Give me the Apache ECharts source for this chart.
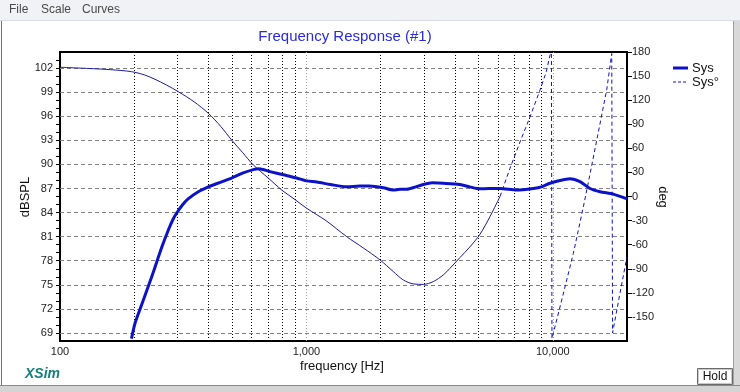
<!DOCTYPE html>
<html>
<head>
<meta charset="utf-8">
<script src="https://cdn.jsdelivr.net/npm/echarts@6/dist/echarts.min.js"></script>
<style>
html,body{margin:0;padding:0;background:#fff;}
#c{width:740px;height:392px;}
</style>
</head>
<body>
<div id="c"></div>
<script>
// ---- data ----
const magFreq = [195, 202, 215, 235, 259, 275, 288, 300, 315, 331, 364, 400, 450, 497, 550, 609, 640, 712, 806, 913, 1000, 1101, 1250, 1457, 1650, 1800, 2052, 2253, 2400, 2553, 2780, 2982, 3250, 3594, 4200, 4600, 5064, 5500, 6105, 7137, 8336, 9000, 9740, 10700, 11743, 12890, 14160, 15550, 17600, 20000];
const magDb   = [68.3, 70.3, 72.6, 75.9, 79.7, 81.8, 83.2, 84.1, 85.0, 85.7, 86.6, 87.2, 87.8, 88.3, 88.9, 89.35, 89.45, 89.1, 88.7, 88.3, 87.95, 87.8, 87.5, 87.2, 87.3, 87.3, 87.1, 86.8, 86.9, 86.9, 87.2, 87.5, 87.7, 87.65, 87.5, 87.2, 86.95, 87.0, 87.0, 86.8, 87.0, 87.2, 87.65, 88.0, 88.2, 87.85, 87.0, 86.6, 86.3, 85.7];

const phFreq = [100, 130, 160, 195, 220, 243, 270, 302, 350, 400, 450, 497, 550, 609, 700, 794, 900, 1003, 1200, 1457, 1700, 1989, 2253, 2474, 2716, 2982, 3273, 3594, 3827, 4200, 4600, 5064, 5560, 6105, 6700, 7360, 8085, 8875, 9400, 9740, 9870, 9920, 10950, 12110, 13300, 14200, 15070, 16550, 17340, 17400, 17480, 18740, 20000];
const phDeg  = [161, 159.5, 158, 155.5, 151.5, 146, 139, 130.6, 118, 103.6, 87, 70.4, 55, 39.3, 23, 8.1, -4, -14.7, -30, -50, -64, -79, -93.6, -104, -108.9, -109.5, -106, -97.7, -89.4, -76, -63, -47, -25, 0, 35, 68, 99.4, 132.7, 155, 176, 179, -177, -125, -71, -13, 30, 70, 133, 178, 179, -170, -120, -75];

const leftTicks = [69, 72, 75, 78, 81, 84, 87, 90, 93, 96, 99, 102];
const gridFreqs = [200, 300, 400, 500, 600, 700, 800, 900, 1000, 2000, 3000, 4000, 5000, 6000, 7000, 8000, 9000, 10000];
const decadeFreqs = [1000, 10000];

const title = 'Frequency Response (#1)';
const seriesNames = ['Sys', 'Sys°'];

// ---- build ----
const magData = magFreq.map((f, i) => [f, magDb[i]]);
const phData = phFreq.map((f, i) => [f, phDeg[i]]);
const dashFrom = 6105;
const phSolid = phData.filter(p => p[0] <= dashFrom);
const phDashed = phData.filter(p => p[0] >= dashFrom);

const FONT = 'Liberation Sans, Arial, sans-serif';
const BLUE = '#0c12c8';
const NAVY = '#1a1a9a';

const chart = echarts.init(document.getElementById('c'), null, {renderer: 'canvas'});

const vLines = gridFreqs.map(f => ({
  xAxis: f,
  lineStyle: decadeFreqs.includes(f)
    ? {color: '#a0a0a0', type: [1, 2], width: 1}
    : {color: '#000', type: [1, 2], width: 1}
}));
const hLines = leftTicks.map(v => ({
  yAxis: v,
  lineStyle: {color: '#808080', type: [4, 3], width: 1}
}));

chart.setOption({
  animation: false,
  backgroundColor: '#fff',
  textStyle: {fontFamily: FONT},
  grid: {left: 60, right: 113, top: 52, bottom: 51, show: true, borderColor: '#000', borderWidth: 2, backgroundColor: 'transparent'},
  xAxis: {
    type: 'log', logBase: 10, min: 100, max: 20000,
    axisLine: {show: true, onZero: false, lineStyle: {color: '#000', width: 2}},
    axisTick: {show: false},
    splitLine: {show: false},
    axisLabel: {
      color: '#222', fontSize: 11, fontFamily: FONT, margin: 5, showMaxLabel: false,
      formatter: v => Math.round(v).toLocaleString('en-US')
    }
  },
  yAxis: [
    {
      type: 'value', min: 68, max: 104, interval: 1, position: 'left',
      axisLine: {show: true, onZero: false, lineStyle: {color: '#000', width: 2}},
      axisTick: {show: true, inside: false, length: 4, lineStyle: {color: '#000'}},
      splitLine: {show: false},
      axisLabel: {color: '#222', fontSize: 11, fontFamily: FONT, margin: 7, showMinLabel: false, showMaxLabel: false,
        formatter: v => leftTicks.includes(Math.round(v)) ? String(Math.round(v)) : ''}
    },
    {
      type: 'value', min: -180, max: 180, interval: 30, position: 'right',
      axisLine: {show: true, onZero: false, lineStyle: {color: '#000', width: 2}},
      axisTick: {show: true, inside: false, length: 5, lineStyle: {color: '#000'}},
      splitLine: {show: false},
      axisLabel: {color: '#222', fontSize: 11, fontFamily: FONT, margin: 5, showMinLabel: false}
    }
  ],
  series: [
    {
      name: seriesNames[0], type: 'line', yAxisIndex: 0, data: magData,
      showSymbol: false, smooth: 0.25, z: 5,
      lineStyle: {color: BLUE, width: 3},
      markLine: {silent: true, symbol: 'none', label: {show: false}, data: vLines.concat(hLines), z: 1}
    },
    {
      name: seriesNames[1], type: 'line', yAxisIndex: 1, data: phSolid,
      showSymbol: false, smooth: 0.3, z: 4,
      lineStyle: {color: NAVY, width: 1}
    },
    {
      name: seriesNames[1] + ' ', type: 'line', yAxisIndex: 1, data: phDashed,
      showSymbol: false, smooth: 0, z: 4,
      lineStyle: {color: BLUE, width: 1, type: [4, 3]}
    }
  ],
  graphic: [
    {type: 'rect', left: 0, top: 0, shape: {width: 740, height: 20}, style: {fill: '#f0f2f5'}, z: 0},
    {type: 'line', shape: {x1: 0, y1: 20.5, x2: 740, y2: 20.5}, style: {stroke: '#d6dbe6', lineWidth: 1}},
    {type: 'text', left: 9, top: 4, style: {text: 'File', font: '12px ' + FONT, fill: '#4a4a4a'}},
    {type: 'text', left: 41, top: 4, style: {text: 'Scale', font: '12px ' + FONT, fill: '#4a4a4a'}},
    {type: 'text', left: 82, top: 4, style: {text: 'Curves', font: '12px ' + FONT, fill: '#4a4a4a'}},
    {type: 'line', shape: {x1: 1.5, y1: 21, x2: 1.5, y2: 386}, style: {stroke: '#707070', lineWidth: 1}},
    {type: 'rect', left: 734, top: 21, shape: {width: 6, height: 371}, style: {fill: '#d8d8d8'}},
    {type: 'line', shape: {x1: 733.5, y1: 21, x2: 733.5, y2: 386}, style: {stroke: '#a0a0a0', lineWidth: 1}},
    {type: 'rect', left: 0, top: 386, shape: {width: 740, height: 6}, style: {fill: '#d4d4d4'}},
    {type: 'line', shape: {x1: 0, y1: 385.5, x2: 740, y2: 385.5}, style: {stroke: '#8a8a8a', lineWidth: 1}},
    {type: 'text', x: 345, y: 37, style: {text: title, font: '15px ' + FONT, fill: '#2a2ad8', align: 'center', verticalAlign: 'middle'}},
    {type: 'text', x: 25, y: 197, rotation: Math.PI / 2, style: {text: 'dBSPL', font: '13px ' + FONT, fill: '#111', align: 'center', verticalAlign: 'middle'}},
    {type: 'text', x: 663, y: 197, rotation: -Math.PI / 2, style: {text: 'deg', font: '13px ' + FONT, fill: '#111', align: 'center', verticalAlign: 'middle'}},
    {type: 'text', x: 342, y: 366, style: {text: 'frequency [Hz]', font: '13px ' + FONT, fill: '#111', align: 'center', verticalAlign: 'middle'}},
    {type: 'line', shape: {x1: 673, y1: 68, x2: 688, y2: 68}, style: {stroke: BLUE, lineWidth: 3}},
    {type: 'text', x: 692, y: 68, style: {text: seriesNames[0], font: '13px ' + FONT, fill: '#111', verticalAlign: 'middle'}},
    {type: 'line', shape: {x1: 673, y1: 82, x2: 688, y2: 82}, style: {stroke: BLUE, lineWidth: 1, lineDash: [3, 2]}},
    {type: 'text', x: 692, y: 82, style: {text: seriesNames[1], font: '13px ' + FONT, fill: '#111', verticalAlign: 'middle'}},
    {type: 'text', x: 25, y: 374, style: {text: 'XSim', font: 'italic bold 14px ' + FONT, fill: '#15807a', verticalAlign: 'middle'}},
    {type: 'rect', shape: {x: 697.5, y: 368.5, width: 35, height: 16}, style: {fill: '#fff', stroke: '#6a6a6a', lineWidth: 1}},
    {type: 'rect', shape: {x: 698.5, y: 369.5, width: 33, height: 14}, style: {fill: 'none', stroke: '#c8c8c8', lineWidth: 1}},
    {type: 'text', x: 715, y: 377, style: {text: 'Hold', font: '12px ' + FONT, fill: '#111', align: 'center', verticalAlign: 'middle'}}
  ]
});
</script>
</body>
</html>
